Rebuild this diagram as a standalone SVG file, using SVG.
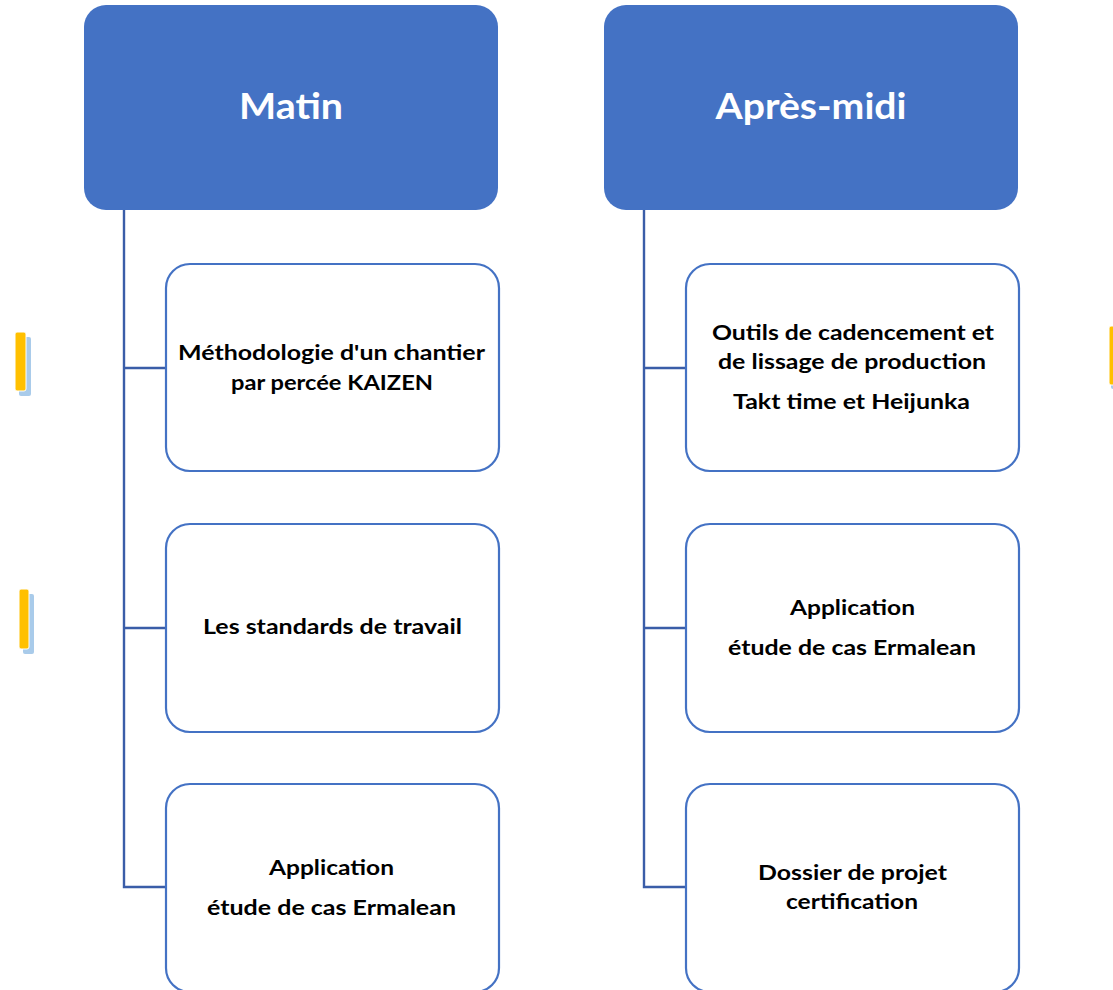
<svg xmlns="http://www.w3.org/2000/svg" width="1113" height="990" viewBox="0 0 1113 990">
<style>
.head{fill:#4472C4;}
.child{fill:#FFFFFF;stroke:#4472C4;stroke-width:2.2;}
.conn{fill:none;stroke:#3A5DA8;stroke-width:2.4;}
.ht{font-family:"Lato","Open Sans",sans-serif;font-weight:bold;font-size:37px;fill:#FFFFFF;text-anchor:middle;}
.ct{font-family:"Lato","Open Sans",sans-serif;font-weight:bold;font-size:21.5px;fill:#000000;text-anchor:middle;}
.bar{fill:#FFC000;stroke:#FFFFFF;stroke-width:1;}
.shadow{fill:#A9CBEA;}
</style>
<rect width="1113" height="990" fill="#FFFFFF"/>
<g id="decor">
<rect class="shadow" x="19" y="337" width="12" height="59" rx="2"/>
<rect class="bar" x="15" y="332" width="11" height="59" rx="2"/>
<rect class="shadow" x="23" y="594" width="11" height="60" rx="2"/>
<rect class="bar" x="19" y="589" width="10" height="60" rx="2"/>
<rect class="shadow" x="1111" y="330" width="10" height="59" rx="2"/>
<rect class="bar" x="1109" y="326" width="10" height="59" rx="2"/>
</g>
<g id="connectors">
<path class="conn" d="M124 210 V887 H166 M124 368 H166 M124 628 H166"/>
<path class="conn" d="M644 210 V887 H686 M644 368 H686 M644 628 H686"/>
</g>
<g id="matin">
<rect class="head" x="84" y="5" width="414" height="205" rx="22"/>
<text class="ht" x="291" y="119" textLength="104" lengthAdjust="spacingAndGlyphs">Matin</text>
</g>
<g id="apres-midi">
<rect class="head" x="604" y="5" width="414" height="205" rx="22"/>
<text class="ht" x="811" y="119" textLength="191" lengthAdjust="spacingAndGlyphs">Après-midi</text>
</g>
<g id="kaizen">
<rect class="child" x="166" y="264" width="333" height="207" rx="24"/>
<text class="ct" x="331.5" y="360" textLength="307" lengthAdjust="spacingAndGlyphs">Méthodologie d'un chantier</text>
<text class="ct" x="332" y="390" textLength="202" lengthAdjust="spacingAndGlyphs">par percée KAIZEN</text>
</g>
<g id="standards">
<rect class="child" x="166" y="524" width="333" height="208" rx="24"/>
<text class="ct" x="332.5" y="634" textLength="259" lengthAdjust="spacingAndGlyphs">Les standards de travail</text>
</g>
<g id="application-matin">
<rect class="child" x="166" y="784" width="333" height="208" rx="24"/>
<text class="ct" x="331.5" y="875" textLength="125" lengthAdjust="spacingAndGlyphs">Application</text>
<text class="ct" x="331.5" y="915" textLength="249" lengthAdjust="spacingAndGlyphs">étude de cas Ermalean</text>
</g>
<g id="cadencement">
<rect class="child" x="686" y="264" width="333" height="207" rx="24"/>
<text class="ct" x="853" y="340" textLength="282" lengthAdjust="spacingAndGlyphs">Outils de cadencement et</text>
<text class="ct" x="852" y="369" textLength="268" lengthAdjust="spacingAndGlyphs">de lissage de production</text>
<text class="ct" x="851.5" y="409" textLength="237" lengthAdjust="spacingAndGlyphs">Takt time et Heijunka</text>
</g>
<g id="application-apres-midi">
<rect class="child" x="686" y="524" width="333" height="208" rx="24"/>
<text class="ct" x="852.5" y="615" textLength="125" lengthAdjust="spacingAndGlyphs">Application</text>
<text class="ct" x="852" y="655" textLength="248" lengthAdjust="spacingAndGlyphs">étude de cas Ermalean</text>
</g>
<g id="dossier">
<rect class="child" x="686" y="784" width="333" height="208" rx="24"/>
<text class="ct" x="852.5" y="880" textLength="189" lengthAdjust="spacingAndGlyphs">Dossier de projet</text>
<text class="ct" x="852" y="909" textLength="132" lengthAdjust="spacingAndGlyphs">certification</text>
</g>
</svg>
